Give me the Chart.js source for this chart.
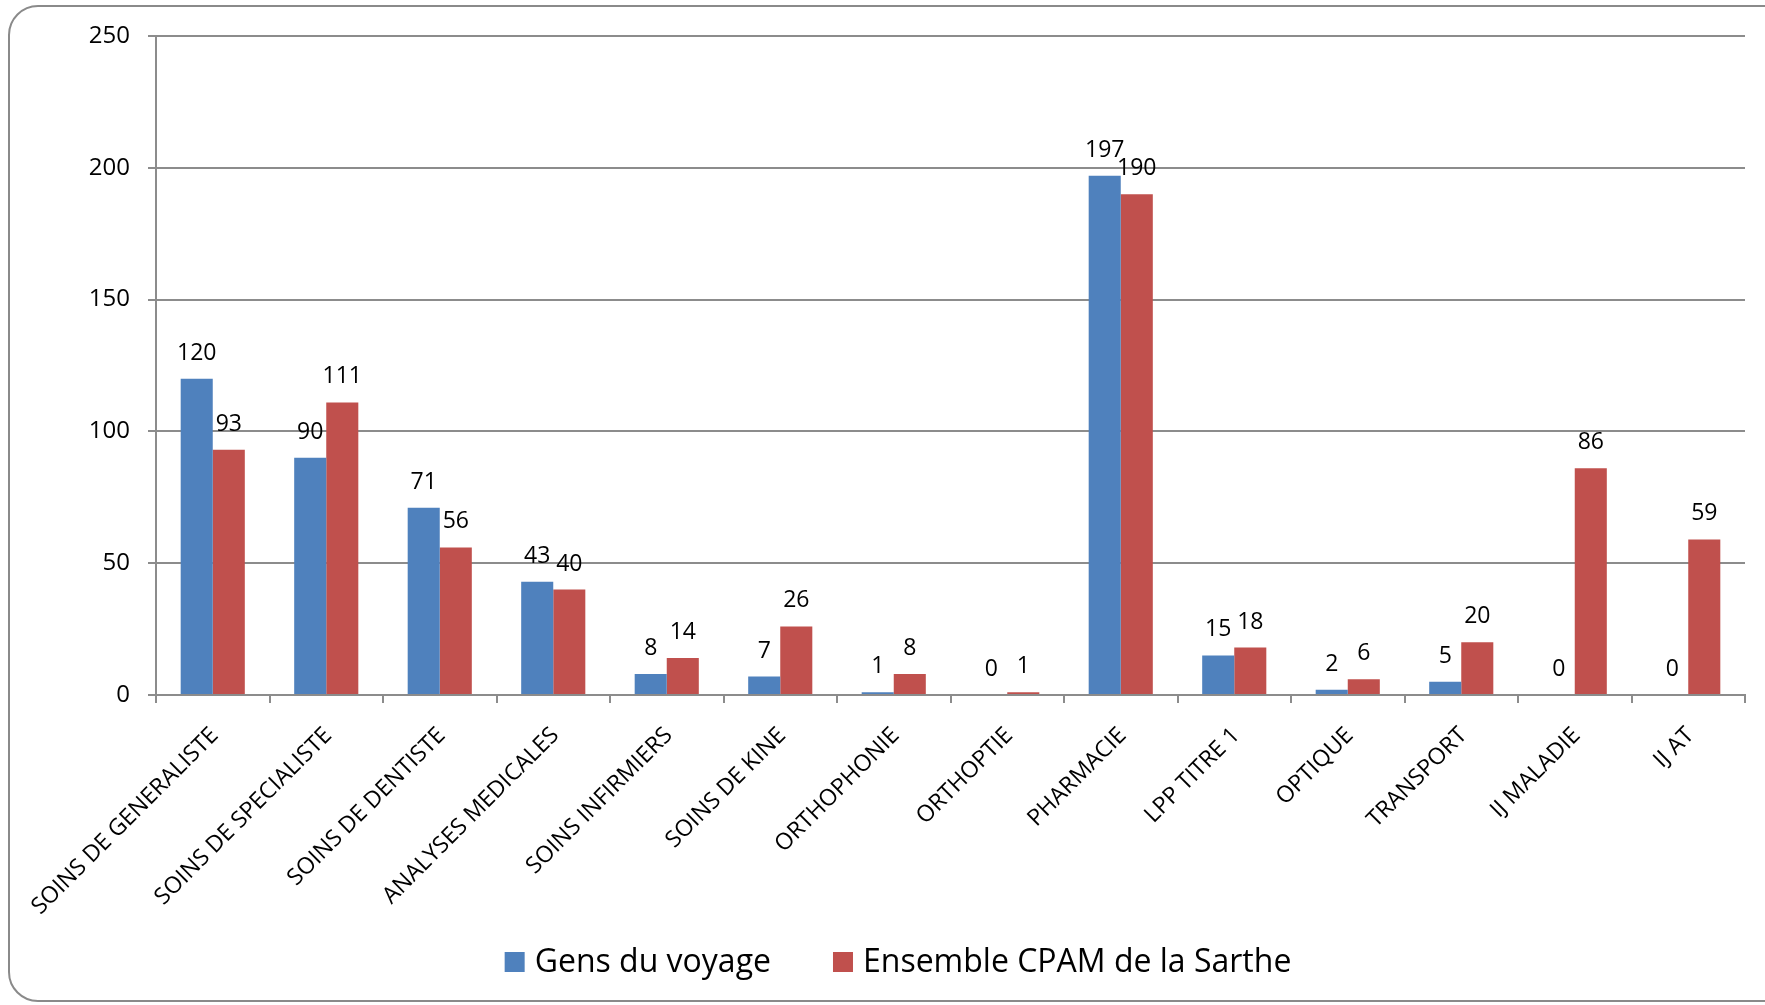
<!DOCTYPE html>
<html>
<head>
<meta charset="utf-8">
<script src="https://cdn.jsdelivr.net/npm/chart.js@4.4.1/dist/chart.umd.min.js"></script>
<style>
  html, body { margin: 0; padding: 0; background: #fff; overflow: hidden; }
  #frame {
    position: absolute; left: 8px; top: 5px;
    width: 1800px; height: 993px;
    border: 2px solid #8a8a8a; border-radius: 30px;
  }
  #chart { position: absolute; left: 0; top: 0; }
</style>
</head>
<body>
<div id="frame"></div>
<canvas id="chart" width="1765" height="1005"></canvas>
<script>
// ----- Data -----
const categories = [
  "SOINS DE GENERALISTE", "SOINS DE SPECIALISTE", "SOINS DE DENTISTE",
  "ANALYSES MEDICALES", "SOINS INFIRMIERS", "SOINS DE KINE", "ORTHOPHONIE",
  "ORTHOPTIE", "PHARMACIE", "LPP TITRE 1", "OPTIQUE", "TRANSPORT",
  "IJ MALADIE", "IJ AT"
];
const gensDuVoyage   = [120, 90, 71, 43, 8, 7, 1, 0, 197, 15, 2, 5, 0, 0];
const ensembleSarthe = [93, 111, 56, 40, 14, 26, 8, 1, 190, 18, 6, 20, 86, 59];
const seriesNames = ["Gens du voyage", "Ensemble CPAM de la Sarthe"];
const yTicks = [0, 50, 100, 150, 200, 250];

// ----- Style -----
const FONT = '"Open Sans", "DejaVu Sans", sans-serif';
const gridColor = "#8c8c8c";
const blue = "#4f81bd";
const red = "#c0504d";

// Value labels above each bar (no datalabels plugin available offline)
const barValueLabels = {
  id: "barValueLabels",
  afterDatasetsDraw(chart) {
    const ctx = chart.ctx;
    ctx.save();
    ctx.font = "23px " + FONT;
    ctx.fillStyle = "#000";
    ctx.textAlign = "center";
    ctx.textBaseline = "alphabetic";
    chart.data.datasets.forEach((ds, i) => {
      chart.getDatasetMeta(i).data.forEach((bar, j) => {
        ctx.fillText(String(ds.data[j]), bar.x, bar.y - 19);
      });
    });
    ctx.restore();
  }
};

// Bottom legend drawn by hand: the built-in one ties item spacing to its height
const bottomLegend = {
  id: "bottomLegend",
  afterDraw(chart) {
    const ctx = chart.ctx;
    const box = 20, textGap = 10, itemGap = 62;
    const centerX = 898, centerY = 962;
    ctx.save();
    ctx.font = "32px " + FONT;
    ctx.textBaseline = "middle";
    ctx.textAlign = "left";
    const items = chart.data.datasets.map(ds => ({
      text: ds.label,
      color: ds.backgroundColor,
      w: ctx.measureText(ds.label).width
    }));
    let total = 0;
    items.forEach((it, i) => {
      total += box + textGap + it.w + (i > 0 ? itemGap : 0);
    });
    let x = centerX - total / 2;
    items.forEach(it => {
      ctx.fillStyle = it.color;
      ctx.fillRect(x, centerY - box / 2, box, box);
      ctx.fillStyle = "#000";
      ctx.fillText(it.text, x + box + textGap, centerY + 1);
      x += box + textGap + it.w + itemGap;
    });
    ctx.restore();
  }
};

function drawChart() {
  const ctx = document.getElementById("chart").getContext("2d");
  new Chart(ctx, {
    type: "bar",
    data: {
      labels: categories,
      datasets: [
        { label: seriesNames[0], data: gensDuVoyage, backgroundColor: blue },
        { label: seriesNames[1], data: ensembleSarthe, backgroundColor: red }
      ]
    },
    options: {
      responsive: false,
      animation: false,
      devicePixelRatio: 1,
      categoryPercentage: 0.565,
      barPercentage: 1.0,
      layout: { padding: { left: 52, right: 20, top: 36, bottom: 0 } },
      plugins: {
        tooltip: { enabled: false },
        legend: { display: false }
      },
      scales: {
        x: {
          grid: {
            display: true,
            drawOnChartArea: false,
            drawTicks: true,
            tickLength: 8,
            color: gridColor,
            lineWidth: 2
          },
          border: { display: true, color: gridColor, width: 2 },
          ticks: {
            color: "#000",
            font: { family: FONT, size: 23 },
            minRotation: 45,
            maxRotation: 45,
            autoSkip: false,
            padding: 19,
            labelOffset: 2
          },
          afterFit(scale) {
            scale.height = 310;
            scale.paddingLeft = 0;
            scale.paddingRight = 0;
          }
        },
        y: {
          min: 0,
          max: 250,
          ticks: {
            color: "#000",
            font: { family: FONT, size: 24 },
            padding: 18
          },
          afterBuildTicks(scale) {
            scale.ticks = yTicks.map(v => ({ value: v }));
          },
          grid: { color: gridColor, lineWidth: 2, tickLength: 8 },
          border: { display: true, color: gridColor, width: 2 },
          afterFit(scale) {
            scale.width = 104;
          }
        }
      }
    },
    plugins: [barValueLabels, bottomLegend]
  });
}

document.fonts.load('22px "Open Sans"').then(drawChart, drawChart);
</script>
</body>
</html>
